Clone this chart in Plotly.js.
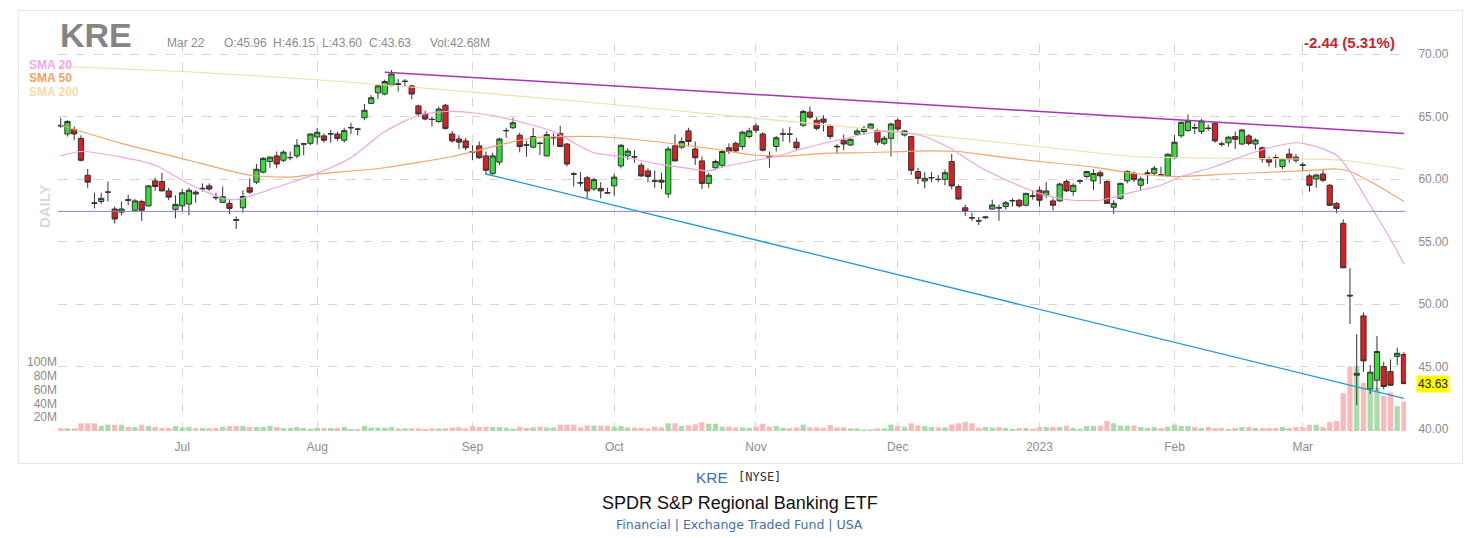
<!DOCTYPE html>
<html>
<head>
<meta charset="utf-8">
<script src="https://cdn.plot.ly/plotly-3.0.1.min.js"></script>
<style>
  html, body { margin: 0; padding: 0; background: #ffffff; }
  #wrap { position: relative; width: 1477px; height: 538px; overflow: hidden; }
  #frame { position: absolute; left: 18px; top: 10px; width: 1443px; height: 452px; border: 1px solid #e6e6e6; pointer-events: none; }
  #chart { position: absolute; left: 0; top: 0; width: 1477px; height: 538px; }
</style>
</head>
<body>
<div id="wrap">
  <div id="frame"></div>
  <div id="chart"></div>
</div>
<script>
// ---------- DATA ----------
const startDate = '2022-06-06';
const endDate = '2023-03-22';
const holidays = ['2022-06-20','2022-07-04','2022-09-05','2022-11-24','2022-12-26','2023-01-02','2023-01-16','2023-02-20'];

const opens = [
64.3,63.6,63.95,63.25,60.3,58.1,58.2,58.95,57.6,57.35,
58.35,57.5,58.2,57.85,59.85,59.8,59.05,57.57,57.85,58.0,
58.95,59.2,59.45,58.55,58.13,58.05,56.75,57.7,59.3,59.75,
60.55,61.4,61.85,61.5,61.7,61.85,62.78,62.86,63.36,63.45,
63.6,63.6,63.1,64.08,64.0,64.9,66.05,66.9,66.8,67.5,
67.62,67.8,67.45,65.85,65.2,64.78,64.6,65.9,63.6,63.2,
63.05,62.2,62.65,61.85,60.45,61.35,63.85,64.1,63.5,62.74,
62.55,62.88,61.85,63.28,63.65,62.8,60.42,59.72,60.1,59.2,
59.25,58.92,59.45,61.05,61.86,61.8,61.1,60.65,59.86,59.9,
58.8,62.65,62.55,63.85,62.4,61.45,59.65,60.9,61.1,62.5,
62.85,62.6,63.4,64.25,63.6,61.8,62.6,63.58,63.6,62.95,
64.3,65.35,64.7,64.8,64.25,62.62,63.1,62.72,63.58,63.8,
64.05,63.85,62.86,63.25,64.7,63.52,63.4,60.6,59.84,60.08,
59.98,59.97,61.4,59.4,57.7,56.92,56.68,56.9,57.6,57.72,
57.8,58.24,58.3,57.9,58.66,59.1,58.72,58.25,58.25,59.8,
59.0,59.82,60.2,59.85,60.5,59.8,57.74,58.45,59.85,60.46,
59.5,60.44,60.46,60.34,60.26,61.7,63.46,63.87,64.12,63.8,
64.08,64.45,62.82,62.9,63.4,62.8,63.45,62.8,62.5,61.6,
61.72,61.0,62.0,61.75,61.14,60.25,60.0,60.4,59.5,58.05,
56.45,50.7,44.3,49.05,43.2,43.9,45.0,44.6,45.8,45.96];

const highs = [
64.9,64.7,64.2,63.5,60.8,58.9,58.9,59.8,57.8,58.2,
58.75,58.4,58.35,59.5,60.1,60.5,59.3,58.7,59.2,59.3,
59.1,59.65,59.65,58.9,59.4,58.3,57.0,59.1,60.05,61.2,
61.75,61.8,62.2,62.3,62.2,63.2,62.9,63.65,64.1,63.65,
63.92,63.8,64.1,64.5,64.1,66.0,66.7,67.5,67.95,68.72,
68.0,68.0,67.55,65.95,65.45,65.0,65.8,66.0,63.85,63.5,
63.3,62.7,63.0,62.2,62.1,63.3,64.1,64.9,63.7,63.05,
64.1,63.0,63.8,63.66,64.26,62.9,60.55,60.55,60.25,60.1,
59.75,59.3,60.4,62.8,62.45,62.3,61.3,60.85,60.68,60.5,
62.6,63.58,63.3,64.1,63.0,61.8,60.5,61.55,62.35,62.85,
63.0,63.85,64.1,64.45,63.75,62.2,63.45,64.05,64.15,63.3,
65.55,65.8,64.95,65.1,64.38,62.8,63.55,63.25,64.05,64.25,
64.45,64.05,63.45,64.5,64.85,63.9,63.45,60.9,60.55,60.55,
60.3,60.75,62.0,59.55,57.95,57.3,56.95,57.0,58.35,57.95,
58.25,58.45,58.4,58.9,59.1,59.42,59.75,58.45,59.7,59.95,
59.65,59.98,60.65,60.78,60.7,59.9,58.3,59.7,60.7,60.6,
60.2,60.72,61.05,60.98,62.05,63.52,64.6,65.18,64.45,64.8,
64.35,64.55,63.0,63.4,63.8,64.0,63.6,63.25,62.6,61.8,
61.95,61.65,62.46,62.0,61.35,60.4,60.4,60.78,59.6,58.15,
56.77,52.86,47.58,49.33,45.12,47.44,45.38,45.56,46.5,46.15];

const lows = [
64.1,63.4,63.1,61.4,59.3,57.65,58.0,58.2,56.45,57.1,
57.9,57.4,56.65,57.8,59.05,59.0,58.3,56.85,57.45,57.1,
58.1,59.0,59.05,58.3,58.1,57.2,56.0,57.3,58.8,59.6,
60.45,60.9,60.85,61.35,61.5,61.65,61.9,62.7,62.75,62.9,
62.9,63.05,62.9,63.6,63.5,64.7,66.0,66.4,66.7,67.4,
67.0,67.4,66.38,65.0,64.7,64.2,64.5,63.95,62.9,62.4,
62.3,61.52,61.6,60.32,60.3,61.1,63.3,64.0,62.14,61.78,
62.45,61.92,61.8,62.7,62.55,61.0,59.4,59.4,58.45,59.05,
58.45,58.8,58.67,60.85,61.52,61.3,60.15,59.74,59.3,59.2,
58.5,61.4,62.4,62.6,61.12,59.2,59.3,60.7,60.9,62.0,
62.1,62.35,63.25,63.65,62.2,60.9,62.2,63.0,62.9,62.35,
64.15,64.8,63.9,63.8,63.2,62.0,62.3,62.65,63.5,63.55,
63.95,62.72,62.72,61.8,63.82,63.4,60.32,59.6,59.25,59.75,
59.75,59.5,59.17,58.35,57.04,56.65,56.32,56.8,57.55,56.66,
57.55,57.8,57.72,57.8,58.35,57.8,58.5,57.5,58.15,58.95,
58.65,59.6,60.05,59.12,59.6,58.0,57.2,58.35,59.65,59.75,
59.04,59.6,60.3,60.3,60.2,61.6,63.3,63.8,63.6,63.6,
63.85,62.9,62.6,62.6,62.4,62.7,62.7,62.36,61.3,61.0,
60.9,60.8,61.3,61.3,60.64,58.98,59.3,59.75,57.85,57.26,
52.86,48.4,41.92,44.58,42.8,43.06,43.18,43.45,45.12,43.60];

const closes = [
64.25,64.6,63.6,61.5,59.75,58.05,58.45,58.95,56.8,57.6,
58.3,58.25,57.5,59.45,59.4,59.05,58.55,57.97,58.9,59.1,
58.8,59.25,59.2,58.5,58.58,57.65,56.7,58.6,58.95,60.78,
61.65,61.75,61.2,62.15,61.72,62.7,62.82,63.6,63.74,63.1,
63.62,63.25,63.87,64.12,63.98,65.5,66.5,67.45,67.8,68.4,
67.58,67.82,66.8,65.2,64.8,64.76,65.6,64.05,63.05,62.95,
62.5,62.16,61.7,60.7,61.85,63.2,63.88,64.5,62.6,62.7,
63.4,62.84,63.55,63.32,62.6,61.2,60.38,59.68,59.05,59.95,
59.05,58.88,60.15,62.7,62.24,61.76,60.25,60.2,59.82,59.75,
62.4,61.45,63.0,63.0,61.7,59.65,60.3,61.4,62.2,62.2,
62.25,63.75,63.85,63.9,62.3,61.76,63.3,63.62,63.58,62.5,
65.4,64.95,64.05,64.55,63.4,62.58,62.8,63.18,63.84,64.06,
64.4,62.95,63.26,64.4,64.0,63.84,60.7,60.05,60.06,60.12,
59.96,60.5,59.45,58.4,57.4,56.88,56.64,56.96,57.92,57.68,
58.1,58.28,57.85,58.85,58.62,58.3,59.04,57.9,59.6,59.05,
59.5,59.86,60.6,60.45,60.25,58.05,58.05,59.65,60.6,59.95,
60.0,60.48,60.86,60.3,61.98,62.94,64.54,64.64,64.08,64.64,
64.04,63.05,62.78,63.35,63.18,63.92,62.85,63.12,61.6,61.35,
61.68,61.6,61.6,61.5,61.1,59.5,60.32,59.9,57.9,57.65,
52.9,50.65,44.45,45.45,44.55,46.2,43.4,43.5,46.06,43.63];

// volume in millions
const volumesM = [
3.9,3.9,3.9,11.2,11.2,11.2,7.3,9.2,9.2,9.2,
5.8,5.8,9.2,7.3,5.8,4.4,4.4,7.3,5.3,5.8,
4.4,4.4,4.4,4.4,5.8,7.3,7.3,7.3,5.8,5.8,
5.8,7.3,5.8,4.4,4.4,5.8,4.4,3.4,4.4,4.4,
4.4,4.4,5.8,2.9,2.9,7.3,4.9,4.9,4.9,5.8,
3.9,3.9,3.9,3.9,2.9,3.9,3.9,3.9,4.9,5.8,
3.9,7.3,5.8,5.8,5.8,5.8,4.9,3.4,6.3,4.4,
5.3,6.3,5.3,5.3,9.2,9.2,9.2,5.3,8.2,7.8,
7.8,7.8,6.3,7.3,5.3,4.9,4.9,3.9,6.3,5.3,
11.2,11.2,7.3,8.2,9.7,12.6,10.7,10.7,6.3,6.3,
5.3,5.3,4.4,6.3,10.7,6.3,7.3,4.9,4.4,5.3,
9.2,5.3,5.3,4.9,8.7,5.3,5.3,3.9,3.9,2.4,
1.5,3.9,3.9,9.2,7.3,6.3,11.2,8.2,7.3,5.8,
5.3,5.3,9.5,11.2,13.1,11.2,4.9,5.8,4.9,5.8,
4.4,2.9,4.4,4.4,3.4,5.8,5.8,5.8,5.8,7.8,
4.4,3.4,7.3,7.3,7.8,14.6,11.2,7.8,7.8,7.8,
5.8,4.4,5.8,4.4,6.3,9.2,7.3,7.3,5.8,4.4,
5.8,4.4,4.4,2.9,4.4,5.8,5.8,4.4,4.4,4.4,
4.4,5.8,4.4,5.8,5.8,9.2,9.2,5.8,13.1,14.6,
55,94,94,70,60,63,51,56,36,42.68];

// moving averages (trading-day index, value)
const sma20Idx = [0,3,9,14,19,24,26,29,34,38,43,48,53,57,61,66,73,76,79,83,88,93,96,98,103,106,110,115,119,121,125,128,132,136,141,145,148,150,154,158,163,166,171,176,179,183,186,189,191,193,195,197,199];
const sma20Val = [61.85,62.2,61.75,61.1,59.6,58.45,58.35,58.8,59.7,60.45,61.7,63.8,65.1,65.4,65.3,64.85,63.8,62.9,62.1,61.8,61.25,60.85,60.65,60.95,61.5,61.8,62.45,63.1,63.6,63.8,63.7,63.4,62.4,61.0,59.7,58.85,58.45,58.3,58.3,58.85,59.5,60.2,61.0,62.0,62.5,62.9,62.6,61.9,60.6,58.8,57.0,55.2,53.2];
const sma50Idx = [0,9,19,28,34,38,48,58,66,70,79,88,98,103,108,113,119,128,133,138,145,153,159,165,173,184,189,191,195,199];
const sma50Val = [64.3,62.85,61.5,60.3,60.15,60.4,60.9,61.8,62.85,63.3,63.4,63.0,62.3,61.9,61.85,62.05,62.1,62.25,62.2,61.85,61.4,60.95,60.45,60.2,60.4,60.65,60.8,60.6,59.5,58.2];
const sma200Idx = [0,18,39,61,79,103,119,145,159,184,190,199];
const sma200Val = [69.0,68.6,67.9,66.95,66.1,64.85,64.05,62.6,61.8,61.6,61.5,60.8];

// drawn trend lines (trading-day index, price)
const resistIdx = [48, 199];
const resistVal = [68.55, 63.65];
const supportIdx = [63, 199];
const supportVal = [60.4, 42.45];
const levelPrice = 57.41;

const monthTickDates = ['2022-07-01','2022-08-01','2022-09-01','2022-10-03','2022-11-01','2022-12-01','2023-01-03','2023-02-01','2023-03-01'];
const monthTickText = ['Jul','Aug','Sep','Oct','Nov','Dec','2023','Feb','Mar'];
const priceTicks = [40,45,50,55,60,65,70];
const volTicksM = [20,40,60,80,100];
const volTickText = ['20M','40M','60M','80M','100M'];

// ---------- BUILD ----------
function tradingDays(start, end, hol) {
  const out = [];
  const d = new Date(start + 'T00:00:00Z');
  const e = new Date(end + 'T00:00:00Z');
  while (d <= e) {
    const w = d.getUTCDay();
    const s = d.toISOString().slice(0, 10);
    if (w !== 0 && w !== 6 && hol.indexOf(s) < 0) out.push(s);
    d.setUTCDate(d.getUTCDate() + 1);
  }
  return out;
}
const dates = tradingDays(startDate, endDate, holidays);

const FONT = 'Arial, "Liberation Sans", sans-serif';
const GREY = '#8c8c8c';

const volColors = closes.map((c, i) => c >= opens[i] ? '#a9dca9' : '#fbb9b9');

const traces = [
  {
    type: 'bar', x: dates, y: volumesM.map(v => v * 1e6),
    marker: { color: volColors, line: { width: 0 } },
    xaxis: 'x', yaxis: 'y', hoverinfo: 'skip', showlegend: false
  },
  {
    type: 'scatter', mode: 'lines', x: sma200Idx.map(i => dates[i]), y: sma200Val,
    line: { color: '#f3dcae', width: 1.2, shape: 'spline', smoothing: 0.6 },
    xaxis: 'x', yaxis: 'y2', hoverinfo: 'skip', showlegend: false
  },
  {
    type: 'scatter', mode: 'lines', x: sma50Idx.map(i => dates[i]), y: sma50Val,
    line: { color: '#f4a468', width: 1.2, shape: 'spline', smoothing: 0.6 },
    xaxis: 'x', yaxis: 'y2', hoverinfo: 'skip', showlegend: false
  },
  {
    type: 'scatter', mode: 'lines', x: sma20Idx.map(i => dates[i]), y: sma20Val,
    line: { color: '#eaa6e0', width: 1.2, shape: 'spline', smoothing: 0.6 },
    xaxis: 'x', yaxis: 'y2', hoverinfo: 'skip', showlegend: false
  },
  {
    type: 'scatter', mode: 'lines', x: resistIdx.map(i => dates[i]), y: resistVal,
    line: { color: '#a535b5', width: 1.5 },
    xaxis: 'x', yaxis: 'y2', hoverinfo: 'skip', showlegend: false
  },
  {
    type: 'scatter', mode: 'lines', x: supportIdx.map(i => dates[i]), y: supportVal,
    line: { color: '#1f9ad6', width: 1.3 },
    xaxis: 'x', yaxis: 'y2', hoverinfo: 'skip', showlegend: false
  },
  {
    type: 'candlestick', x: dates, open: opens, high: highs, low: lows, close: closes,
    increasing: { line: { color: '#333333', width: 1 }, fillcolor: '#38dc38' },
    decreasing: { line: { color: '#333333', width: 1 }, fillcolor: '#d82020' },
    whiskerwidth: 0,
    xaxis: 'x', yaxis: 'y2', hoverinfo: 'skip', showlegend: false
  }
];

const annotations = [
  { text: '<b>KRE</b>', x: 0, y: 1.023, xref: 'paper', yref: 'paper', xanchor: 'left', yanchor: 'middle', showarrow: false, font: { family: FONT, size: 34, color: '#858585' } },
  { text: 'Mar 22', x: 0.0794, y: 1.0034, xref: 'paper', yref: 'paper', xanchor: 'left', yanchor: 'middle', showarrow: false, font: { family: FONT, size: 12, color: GREY } },
  { text: 'O:45.96', x: 0.1219, y: 1.0034, xref: 'paper', yref: 'paper', xanchor: 'left', yanchor: 'middle', showarrow: false, font: { family: FONT, size: 12, color: GREY } },
  { text: 'H:46.15', x: 0.1578, y: 1.0034, xref: 'paper', yref: 'paper', xanchor: 'left', yanchor: 'middle', showarrow: false, font: { family: FONT, size: 12, color: GREY } },
  { text: 'L:43.60', x: 0.1944, y: 1.0034, xref: 'paper', yref: 'paper', xanchor: 'left', yanchor: 'middle', showarrow: false, font: { family: FONT, size: 12, color: GREY } },
  { text: 'C:43.63', x: 0.2290, y: 1.0034, xref: 'paper', yref: 'paper', xanchor: 'left', yanchor: 'middle', showarrow: false, font: { family: FONT, size: 12, color: GREY } },
  { text: 'Vol:42.68M', x: 0.2747, y: 1.0034, xref: 'paper', yref: 'paper', xanchor: 'left', yanchor: 'middle', showarrow: false, font: { family: FONT, size: 12, color: GREY } },
  { text: '<b>-2.44 (5.31%)</b>', x: 0.9931, y: 1.0034, xref: 'paper', yref: 'paper', xanchor: 'right', yanchor: 'middle', showarrow: false, font: { family: FONT, size: 15, color: '#c4262e' } },
  { text: '<b>SMA 20</b>', x: -0.0228, y: 0.9457, xref: 'paper', yref: 'paper', xanchor: 'left', yanchor: 'middle', showarrow: false, font: { family: FONT, size: 12, color: '#efa9e4' } },
  { text: '<b>SMA 50</b>', x: -0.0228, y: 0.9114, xref: 'paper', yref: 'paper', xanchor: 'left', yanchor: 'middle', showarrow: false, font: { family: FONT, size: 12, color: '#f4a264' } },
  { text: '<b>SMA 200</b>', x: -0.0228, y: 0.8767, xref: 'paper', yref: 'paper', xanchor: 'left', yanchor: 'middle', showarrow: false, font: { family: FONT, size: 12, color: '#f2dcaa' } },
  { text: '<b>DAILY</b>', x: -0.0096, y: 0.5814, xref: 'paper', yref: 'paper', xanchor: 'center', yanchor: 'middle', textangle: -90, showarrow: false, font: { family: FONT, size: 15, color: '#dadada' } },
  { text: '43.63', x: 1.0072, y: closes[closes.length - 1], xref: 'paper', yref: 'y2', xanchor: 'left', yanchor: 'middle', showarrow: false, bgcolor: '#ffff00', borderpad: 1, font: { family: FONT, size: 12, color: '#222222' } },
  { text: 'KRE', x: 0.4855, y: -0.1196, xref: 'paper', yref: 'paper', xanchor: 'center', yanchor: 'middle', showarrow: false, font: { family: FONT, size: 15.5, color: '#3d6db5' } },
  { text: '[NYSE]', x: 0.5202, y: -0.1196, xref: 'paper', yref: 'paper', xanchor: 'center', yanchor: 'middle', showarrow: false, font: { family: '"DejaVu Sans Mono", monospace', size: 12, color: '#333333' } },
  { text: 'SPDR S&amp;P Regional Banking ETF', x: 0.5059, y: -0.1853, xref: 'paper', yref: 'paper', xanchor: 'center', yanchor: 'middle', showarrow: false, font: { family: FONT, size: 18, color: '#111111' } },
  { text: 'Financial | Exchange Traded Fund | USA', x: 0.5059, y: -0.2411, xref: 'paper', yref: 'paper', xanchor: 'center', yanchor: 'middle', showarrow: false, font: { family: '"DejaVu Sans", Verdana, sans-serif', size: 12.5, color: '#3d6db5' } }
];

const layout = {
  width: 1477, height: 538,
  margin: { l: 58, r: 71, t: 44, b: 107, pad: 0 },
  paper_bgcolor: 'rgba(0,0,0,0)', plot_bgcolor: 'rgba(0,0,0,0)',
  showlegend: false,
  bargap: 0.22,
  boxgap: 0.12,
  boxgroupgap: 0.12,
  font: { family: FONT, size: 12, color: GREY },
  xaxis: {
    type: 'category', range: [-0.4, 199.3],
    tickmode: 'array', tickvals: monthTickDates, ticktext: monthTickText,
    showgrid: true, gridcolor: '#d6d6d6', griddash: 'dash', gridwidth: 1,
    zeroline: false, showline: false, ticks: 'outside', ticklen: 5, tickcolor: 'rgba(0,0,0,0)',
    tickfont: { family: FONT, size: 12, color: GREY },
    rangeslider: { visible: false }, fixedrange: true
  },
  yaxis: {
    range: [0, 563e6], side: 'left',
    tickmode: 'array', tickvals: volTicksM.map(v => v * 1e6), ticktext: volTickText,
    showgrid: false, zeroline: false, showline: false, ticks: '',
    tickfont: { family: FONT, size: 12, color: GREY }, fixedrange: true
  },
  yaxis2: {
    overlaying: 'y', side: 'right', range: [39.84, 70.8],
    tickmode: 'array', tickvals: priceTicks, tickformat: '.2f',
    showgrid: true, gridcolor: '#d6d6d6', griddash: 'dash', gridwidth: 1,
    zeroline: false, showline: false, ticks: 'outside', ticklen: 9, tickcolor: 'rgba(0,0,0,0)',
    tickfont: { family: FONT, size: 12, color: GREY }, fixedrange: true
  },
  shapes: [
    { type: 'line', xref: 'paper', yref: 'y2', x0: 0, x1: 0.9995, y0: levelPrice, y1: levelPrice, line: { color: '#8683d2', width: 1 }, layer: 'above' }
  ],
  annotations: annotations
};

Plotly.newPlot('chart', traces, layout, { staticPlot: true, displayModeBar: false, responsive: false });
</script>
</body>
</html>
